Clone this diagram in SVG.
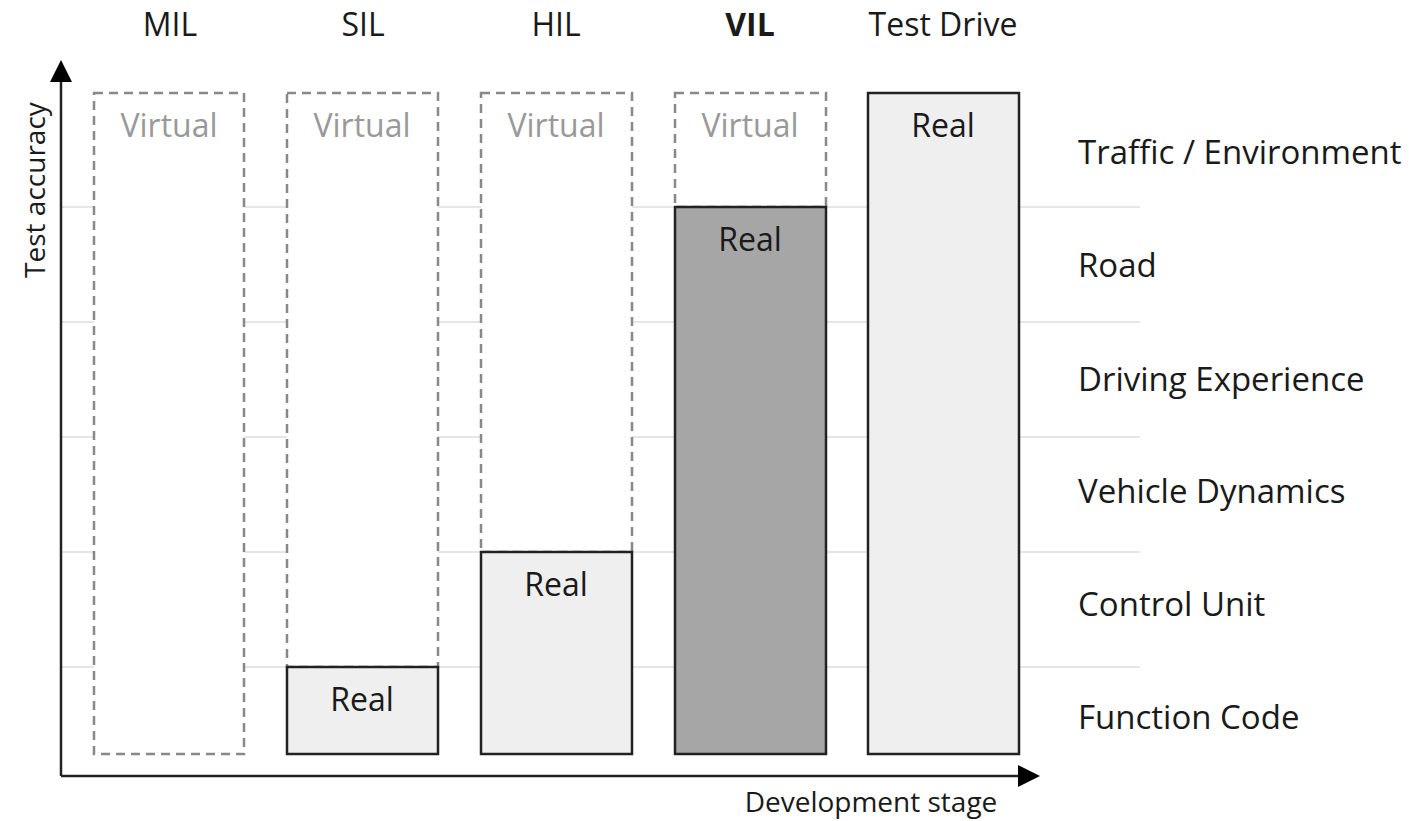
<svg xmlns="http://www.w3.org/2000/svg" width="1412" height="821" viewBox="0 0 1412 821">
<style>
text{font-family:"Open Sans","Noto Sans","Liberation Sans",sans-serif;fill:#1a1a1a}
.hdr{font-size:32px;text-anchor:middle}
.lab{font-size:33px}
.virt{font-size:32px;text-anchor:middle;fill:#999}
.real{font-size:32px;text-anchor:middle}
.dash{fill:#fff;stroke:#888;stroke-width:2.5;stroke-dasharray:9 6}
.solid{stroke:#222;stroke-width:2.5}
.grid{stroke:#e6e6e6;stroke-width:2}
.axis{stroke:#222;stroke-width:2.5;fill:none}
</style>
<defs>
<marker id="ah" markerWidth="22" markerHeight="22" refX="2" refY="11" orient="auto" markerUnits="userSpaceOnUse" viewBox="0 0 22 22">
<path d="M0,0 L22,11 L0,22 Z" fill="#000"/>
</marker>
</defs>
<rect width="1412" height="821" fill="#fff"/>
<g id="grid">
<line class="grid" x1="61" y1="207" x2="1140" y2="207"/>
<line class="grid" x1="61" y1="322" x2="1140" y2="322"/>
<line class="grid" x1="61" y1="437" x2="1140" y2="437"/>
<line class="grid" x1="61" y1="552" x2="1140" y2="552"/>
<line class="grid" x1="61" y1="667" x2="1140" y2="667"/>
</g>
<g id="headers">
<text class="hdr" x="170" y="36">MIL</text>
<text class="hdr" x="363" y="36">SIL</text>
<text class="hdr" x="556" y="36">HIL</text>
<text class="hdr" x="750" y="36" font-weight="bold">VIL</text>
<text class="hdr" x="943" y="36">Test Drive</text>
</g>
<g id="mil">
<rect class="dash" x="94" y="93" width="150" height="661"/>
<text class="virt" x="169" y="137">Virtual</text>
</g>
<g id="sil">
<rect class="dash" x="287" y="93" width="151" height="574"/>
<text class="virt" x="362" y="137">Virtual</text>
<rect class="solid" x="287" y="667" width="151" height="87" fill="#efefef"/>
<text class="real" x="362" y="711">Real</text>
</g>
<g id="hil">
<rect class="dash" x="481" y="93" width="151" height="459"/>
<text class="virt" x="556" y="137">Virtual</text>
<rect class="solid" x="481" y="552" width="151" height="202" fill="#efefef"/>
<text class="real" x="556" y="596">Real</text>
</g>
<g id="vil">
<rect class="dash" x="675" y="93" width="151" height="114"/>
<text class="virt" x="750" y="137">Virtual</text>
<rect class="solid" x="675" y="207" width="151" height="547" fill="#a6a6a6"/>
<text class="real" x="750" y="251">Real</text>
</g>
<g id="testdrive">
<rect class="solid" x="868" y="93" width="151" height="661" fill="#efefef"/>
<text class="real" x="943" y="137">Real</text>
</g>
<g id="levels">
<text class="lab" x="1078" y="164">Traffic / Environment</text>
<text class="lab" x="1078" y="277">Road</text>
<text class="lab" x="1078" y="391">Driving Experience</text>
<text class="lab" x="1078" y="503">Vehicle Dynamics</text>
<text class="lab" x="1078" y="616">Control Unit</text>
<text class="lab" x="1078" y="729">Function Code</text>
</g>
<g id="connectors">
<path class="axis" d="M61,776 L61,80" marker-end="url(#ah)"/>
<path class="axis" d="M61,776 L1020,776" marker-end="url(#ah)"/>
</g>
<g id="axis-labels">
<text x="45" y="190" font-size="28" text-anchor="middle" transform="rotate(-90 45 190)">Test accuracy</text>
<text x="871" y="812" font-size="28" text-anchor="middle">Development stage</text>
</g>
</svg>
